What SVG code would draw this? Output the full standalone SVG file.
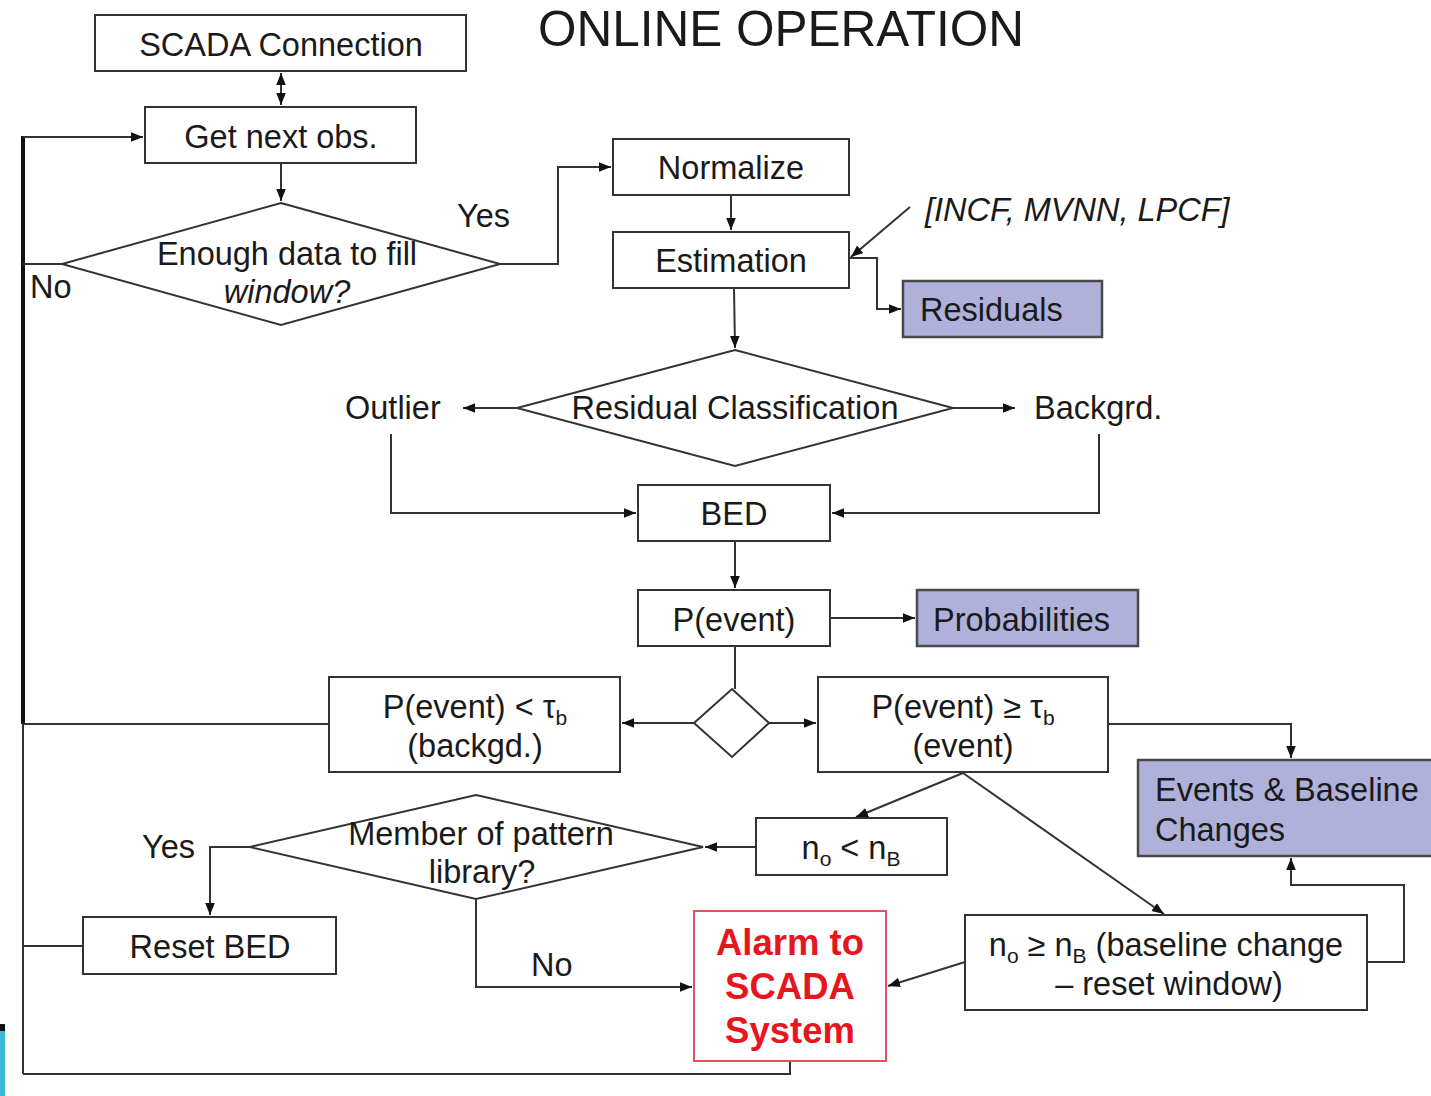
<svg xmlns="http://www.w3.org/2000/svg" width="1431" height="1096" viewBox="0 0 1431 1096">
<style>
  .box { fill: #ffffff; stroke: #333333; stroke-width: 2; }
  .hl { fill: #afb1da; stroke: #4a4a4a; stroke-width: 2.5; }
  .alarm { fill: #ffffff; stroke: #e8505a; stroke-width: 2; }
  .t { font-family: "Liberation Sans", Arial, sans-serif; font-size: 32.5px; fill: #1a1a1a; }
  .c { text-anchor: middle; }
  .it { font-style: italic; }
  .sub { font-size: 21px; }
  .red { font-family: "Liberation Sans", Arial, sans-serif; font-size: 36.5px; font-weight: bold; fill: #e8141e; text-anchor: middle; }
  .ln { fill: none; stroke: #333333; stroke-width: 2; }
  .arr { marker-end: url(#ah); }
</style>
<defs>
  <marker id="ah" viewBox="0 0 10 10" refX="10" refY="5" markerWidth="6" markerHeight="6" markerUnits="strokeWidth" orient="auto">
    <path d="M0,1 L10,5 L0,9 Z" fill="#111111"/>
  </marker>
  <marker id="ahs" viewBox="0 0 10 10" refX="10" refY="5" markerWidth="6" markerHeight="6" markerUnits="strokeWidth" orient="auto-start-reverse">
    <path d="M0,1 L10,5 L0,9 Z" fill="#111111"/>
  </marker>
</defs>
<rect width="1431" height="1096" fill="#ffffff"/>

<text x="781" y="46" class="t c" style="font-size:49.5px">ONLINE OPERATION</text>

<g id="connectors">
  <line x1="281" y1="73" x2="281" y2="105" class="ln" marker-start="url(#ahs)" marker-end="url(#ah)"/>
  <line x1="281" y1="163" x2="281" y2="201" class="ln arr"/>
  <line x1="23" y1="136" x2="23" y2="724" stroke="#111" stroke-width="4"/>
  <line x1="23" y1="724" x2="23" y2="1074" class="ln"/>
  <polyline points="23,137 143,137" class="ln arr"/>
  <line x1="62" y1="264" x2="23" y2="264" class="ln"/>
  <polyline points="500,264 558,264 558,167 611,167" class="ln arr"/>
  <line x1="731" y1="195" x2="731" y2="230" class="ln arr"/>
  <line x1="910" y1="207" x2="851" y2="257" class="ln arr"/>
  <polyline points="849,258 877,258 877,309 901,309" class="ln arr"/>
  <line x1="734" y1="288" x2="735" y2="348" class="ln arr"/>
  <line x1="517" y1="408" x2="463" y2="408" class="ln arr"/>
  <line x1="953" y1="408" x2="1015" y2="408" class="ln arr"/>
  <polyline points="391,434 391,513 636,513" class="ln arr"/>
  <polyline points="1099,434 1099,513 832,513" class="ln arr"/>
  <line x1="735" y1="541" x2="735" y2="588" class="ln arr"/>
  <line x1="830" y1="618" x2="915" y2="618" class="ln arr"/>
  <line x1="735" y1="646" x2="735" y2="689" class="ln"/>
  <line x1="694" y1="723" x2="622" y2="723" class="ln arr"/>
  <line x1="769" y1="723" x2="816" y2="723" class="ln arr"/>
  <line x1="329" y1="724" x2="23" y2="724" class="ln"/>
  <polyline points="1108,724 1291,724 1291,758" class="ln arr"/>
  <line x1="963" y1="773" x2="856" y2="817" class="ln arr"/>
  <line x1="963" y1="773" x2="1164" y2="914" class="ln arr"/>
  <line x1="756" y1="847" x2="705" y2="847" class="ln arr"/>
  <polyline points="250,847 210,847 210,915" class="ln arr"/>
  <line x1="83" y1="946" x2="23" y2="946" class="ln"/>
  <polyline points="476,899 476,987 692,987" class="ln arr"/>
  <line x1="965" y1="962" x2="888" y2="986" class="ln arr"/>
  <polyline points="1367,962 1404,962 1404,885 1291,885 1291,858" class="ln arr"/>
  <polyline points="790,1061 790,1074 23,1074" class="ln"/>
</g>

<g id="scada-connection"><rect x="95" y="15" width="371" height="56" class="box"/><text x="281" y="56" class="t c">SCADA Connection</text></g>
<g id="get-next-obs"><rect x="145" y="107" width="271" height="56" class="box"/><text x="281" y="148" class="t c">Get next obs.</text></g>
<g id="enough-data"><polygon points="281,203 500,264 281,325 62,264" class="box"/>
  <text x="287" y="265" class="t c">Enough data to fill</text>
  <text x="287" y="303" class="t c it">window?</text></g>
<text x="30" y="298" class="t">No</text>
<text x="457" y="227" class="t">Yes</text>

<g id="normalize"><rect x="613" y="139" width="236" height="56" class="box"/><text x="731" y="179" class="t c">Normalize</text></g>
<g id="estimation"><rect x="613" y="232" width="236" height="56" class="box"/><text x="731" y="272" class="t c">Estimation</text></g>
<text x="925" y="221" class="t it">[INCF, MVNN, LPCF]</text>
<g id="residuals"><rect x="903" y="281" width="199" height="56" class="hl"/><text x="920" y="321" class="t">Residuals</text></g>

<g id="residual-classification"><polygon points="735,350 953,408 735,466 517,408" class="box"/><text x="735" y="419" class="t c">Residual Classification</text></g>
<text x="345" y="419" class="t">Outlier</text>
<text x="1034" y="419" class="t">Backgrd.</text>

<g id="bed"><rect x="638" y="485" width="192" height="56" class="box"/><text x="734" y="525" class="t c">BED</text></g>
<g id="p-event"><rect x="638" y="590" width="192" height="56" class="box"/><text x="734" y="631" class="t c">P(event)</text></g>
<g id="probabilities"><rect x="917" y="590" width="221" height="56" class="hl"/><text x="933" y="631" class="t">Probabilities</text></g>

<g id="split"><polygon points="732,689 769,723 732,757 694,723" class="box"/></g>

<g id="p-below"><rect x="329" y="677" width="291" height="95" class="box"/>
  <text x="475" y="718" class="t c">P(event) &lt; τ<tspan class="sub" dy="7">b</tspan></text>
  <text x="475" y="757" class="t c">(backgd.)</text></g>
<g id="p-above"><rect x="818" y="677" width="290" height="95" class="box"/>
  <text x="963" y="718" class="t c">P(event) ≥ τ<tspan class="sub" dy="7">b</tspan></text>
  <text x="963" y="757" class="t c">(event)</text></g>

<g id="events-baseline"><rect x="1138" y="760" width="300" height="96" class="hl"/>
  <text x="1155" y="801" class="t">Events &amp; Baseline</text>
  <text x="1155" y="841" class="t">Changes</text></g>

<g id="no-less"><rect x="756" y="818" width="191" height="57" class="box"/>
  <text x="851" y="859" class="t c">n<tspan class="sub" dy="7">o</tspan><tspan dy="-7"> &lt; n</tspan><tspan class="sub" dy="7">B</tspan></text></g>

<g id="member-pattern"><polygon points="476,795 703,847 476,899 250,847" class="box"/>
  <text x="481" y="845" class="t c">Member of pattern</text>
  <text x="482" y="883" class="t c">library?</text></g>
<text x="142" y="858" class="t">Yes</text>
<text x="531" y="976" class="t">No</text>

<g id="reset-bed"><rect x="83" y="917" width="253" height="57" class="box"/><text x="210" y="958" class="t c">Reset BED</text></g>

<g id="alarm"><rect x="694" y="911" width="192" height="150" class="alarm"/>
  <text x="790" y="955" class="red">Alarm to</text>
  <text x="790" y="999" class="red">SCADA</text>
  <text x="790" y="1043" class="red">System</text></g>

<g id="no-geq"><rect x="965" y="915" width="402" height="95" class="box"/>
  <text x="1166" y="956" class="t c">n<tspan class="sub" dy="7">o</tspan><tspan dy="-7"> ≥ n</tspan><tspan class="sub" dy="7">B</tspan><tspan dy="-7"> (baseline change</tspan></text>
  <text x="1169" y="995" class="t c">– reset window)</text></g>

<g id="corner-decoration">
  <rect x="0" y="1026" width="5" height="70" fill="#3bb6d6"/>
  <rect x="0" y="1024" width="5" height="7" fill="#111111"/>
</g>
</svg>
